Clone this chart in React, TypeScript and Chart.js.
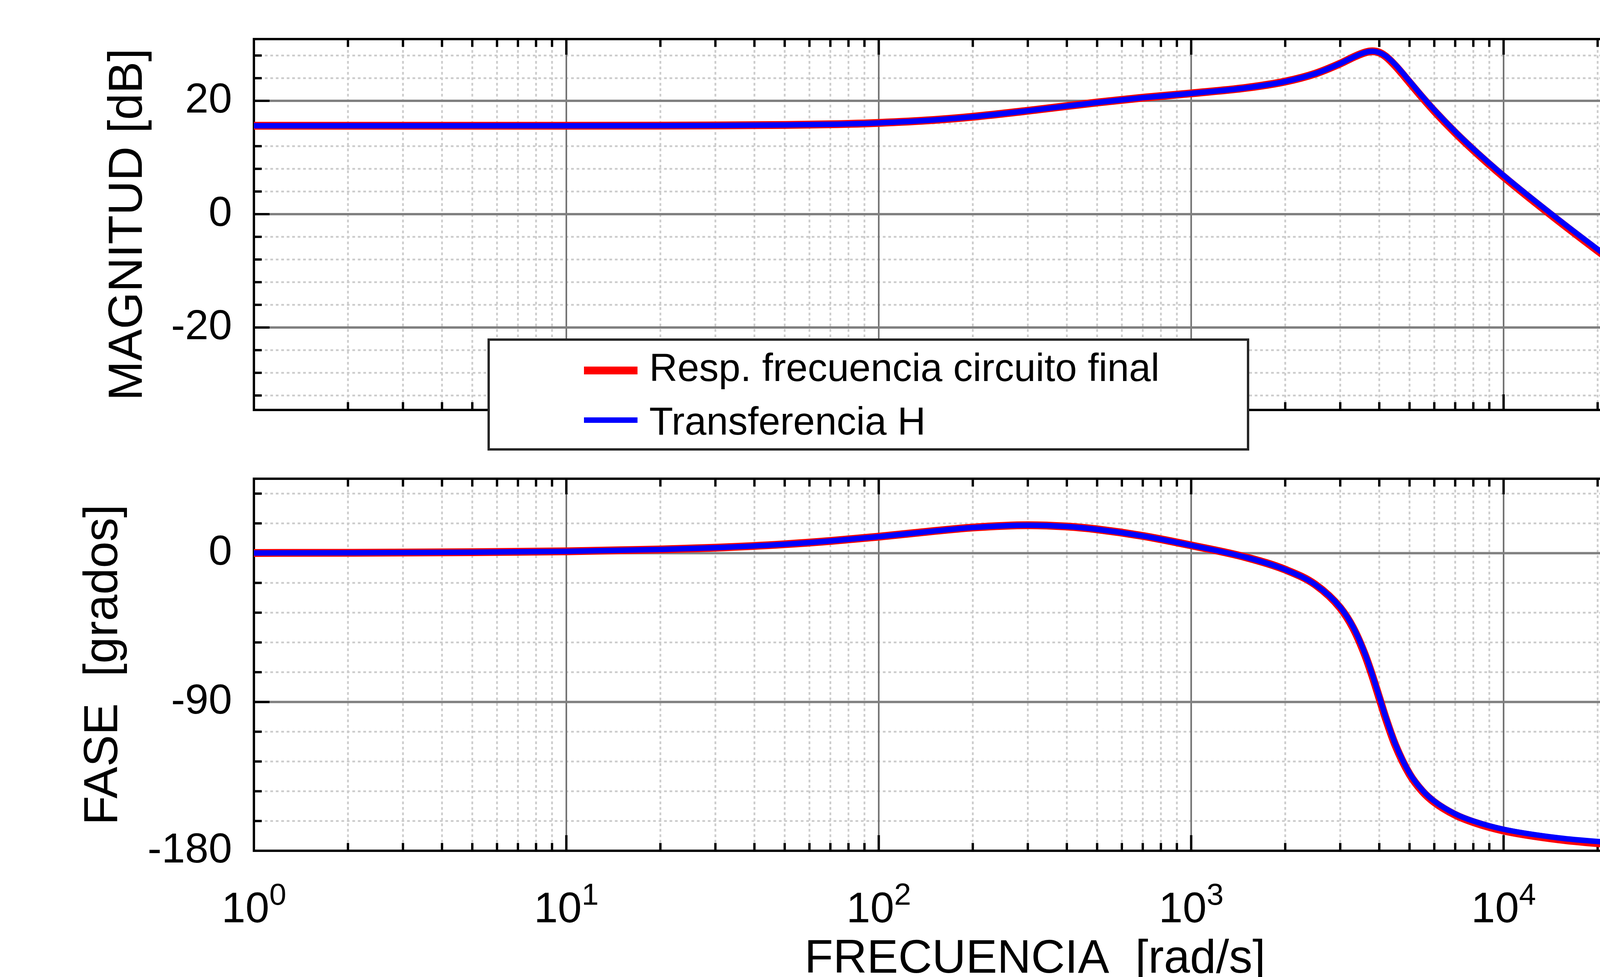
import { useEffect, useRef } from 'react';
import { Chart, registerables } from 'chart.js';

Chart.register(...registerables);

const FONT = '"Liberation Sans", Arial, Helvetica, sans-serif';

// frecuencias [rad/s]
const FREQ = [
  1, 2, 5, 10, 20, 30, 50, 70, 100, 150, 200, 300, 400, 500, 700, 1000, 1500, 2000, 2500, 3000,
  3300, 3600, 3800, 4000, 4200, 4500, 5000, 5500, 6000, 7000, 8000, 10000, 15000, 20000, 30000,
  50000, 70000, 100000,
];

// magnitud [dB]
const MAG_CIRCUITO = [
  15.6, 15.6, 15.6, 15.61, 15.62, 15.65, 15.74, 15.86, 16.11, 16.62, 17.19, 18.25, 19.08, 19.71,
  20.55, 21.32, 22.3, 23.41, 24.82, 26.58, 27.69, 28.53, 28.74, 28.52, 27.8, 26.2, 23.25, 20.55,
  18.2, 14.37, 11.33, 6.62, -1.18, -6.45, -13.68, -22.65, -28.52, -34.72,
];
const MAG_H = [
  15.6, 15.6, 15.6, 15.61, 15.62, 15.65, 15.74, 15.86, 16.11, 16.62, 17.19, 18.25, 19.08, 19.71,
  20.55, 21.32, 22.3, 23.41, 24.82, 26.58, 27.69, 28.53, 28.74, 28.52, 27.9, 26.41, 23.49, 20.77,
  18.41, 14.57, 11.53, 6.84, -0.95, -6.2, -13.43, -22.39, -28.26, -34.47,
];

// fase [grados]
const FASE_CIRCUITO = [
  0.11, 0.22, 0.55, 1.1, 2.2, 3.28, 5.38, 7.35, 9.98, 13.36, 15.49, 16.89, 16.09, 14.39, 10.41,
  4.7, -2.56, -9.97, -19.13, -33.1, -45.3, -61.5, -74.2, -87.5, -100.2, -116.0, -133.7, -144.1,
  -150.6, -158.3, -162.7, -167.8, -173.1, -175.4, -177.6, -179.3, -179.9, -180.5,
];
const FASE_H = [
  0.11, 0.22, 0.55, 1.1, 2.2, 3.28, 5.38, 7.35, 9.98, 13.36, 15.49, 16.89, 16.09, 14.39, 10.41,
  4.7, -2.56, -9.97, -19.13, -32.7, -44.71, -60.75, -73.43, -86.73, -99.4, -115.31, -133.02,
  -143.43, -149.98, -157.65, -162.01, -167.0, -172.2, -174.4, -176.4, -177.9, -178.5, -179.0,
];

const DECADES = [1, 10, 100, 1000, 10000, 100000];
const MAG_TICKS = [-20, 0, 20];
const FASE_TICKS = [-180, -90, 0];
const SERIES_LABELS = ['Resp. frecuencia circuito final', 'Transferencia H'];
const SERIES_COLORS = ['#ff0000', '#0000ff'];
const SERIES_WIDTHS = [20, 14];

interface PanelProps {
  top: number;
  height: number;
  padTop: number;
  padBottom: number;
  yMin: number;
  yMax: number;
  yTicks: number[];
  minorStep: number;
  yTitle: string;
  titleOffset: number;
  circuito: number[];
  transferencia: number[];
  legend?: boolean;
  xAxis?: boolean;
}

function BodePanel(p: PanelProps) {
  const canvasRef = useRef<HTMLCanvasElement>(null);

  useEffect(() => {
    if (!canvasRef.current) return;

    const line = (ctx: CanvasRenderingContext2D, x1: number, y1: number, x2: number, y2: number) => {
      ctx.beginPath();
      ctx.moveTo(x1, y1);
      ctx.lineTo(x2, y2);
      ctx.stroke();
    };

    // matlab style grid, box and inward ticks
    const boxGrid = {
      id: 'boxGrid',
      beforeDatasetsDraw(chart: any) {
        const { ctx, chartArea: a } = chart;
        const xs = chart.scales.x;
        const ys = chart.scales.y;
        const xMinor: number[] = [];
        DECADES.slice(0, -1).forEach((d) => {
          for (let k = 2; k <= 9; k++) xMinor.push(d * k);
        });
        const yMinor: number[] = [];
        for (let v = Math.ceil(ys.min / p.minorStep) * p.minorStep; v <= ys.max; v += p.minorStep) {
          if (!p.yTicks.includes(v)) yMinor.push(v);
        }

        ctx.save();
        ctx.beginPath();
        ctx.rect(a.left, a.top, a.right - a.left, a.bottom - a.top);
        ctx.clip();
        ctx.strokeStyle = '#cccccc';
        ctx.lineWidth = 4.5;
        ctx.setLineDash([7, 7]);
        xMinor.forEach((v) => {
          const px = xs.getPixelForValue(v);
          line(ctx, px, a.top, px, a.bottom);
        });
        yMinor.forEach((v) => {
          const py = ys.getPixelForValue(v);
          line(ctx, a.left, py, a.right, py);
        });
        ctx.setLineDash([]);
        ctx.strokeStyle = '#6e6e6e';
        ctx.lineWidth = 4;
        DECADES.forEach((v) => {
          const px = xs.getPixelForValue(v);
          line(ctx, px, a.top, px, a.bottom);
        });
        ctx.strokeStyle = '#808080';
        ctx.lineWidth = 6;
        p.yTicks.forEach((v) => {
          const py = ys.getPixelForValue(v);
          line(ctx, a.left, py, a.right, py);
        });
        ctx.restore();

        ctx.save();
        ctx.strokeStyle = '#000000';
        ctx.lineWidth = 6;
        ctx.strokeRect(a.left, a.top, a.right - a.left, a.bottom - a.top);
        const tick = (v: number, len: number) => {
          const px = xs.getPixelForValue(v);
          line(ctx, px, a.top, px, a.top + len);
          line(ctx, px, a.bottom, px, a.bottom - len);
        };
        xMinor.forEach((v) => tick(v, 20));
        DECADES.forEach((v) => tick(v, 40));
        const ytick = (v: number, len: number) => {
          const py = ys.getPixelForValue(v);
          line(ctx, a.left, py, a.left + len, py);
          line(ctx, a.right, py, a.right - len, py);
        };
        yMinor.forEach((v) => ytick(v, 20));
        p.yTicks.forEach((v) => ytick(v, 40));
        ctx.restore();
      },
    };

    const legendBox = {
      id: 'legendBox',
      afterDraw(chart: any) {
        if (!p.legend) return;
        const { ctx, chartArea: a } = chart;
        const left = a.left + 601;
        const top = a.bottom - 180;
        ctx.save();
        ctx.fillStyle = '#ffffff';
        ctx.fillRect(left, top, 1944, 281);
        ctx.strokeStyle = '#262626';
        ctx.lineWidth = 6;
        ctx.strokeRect(left, top, 1944, 281);
        ctx.font = `100px ${FONT}`;
        ctx.textAlign = 'left';
        ctx.textBaseline = 'alphabetic';
        chart.data.datasets.forEach((ds: any, i: number) => {
          const cy = top + 79 + i * 127;
          ctx.strokeStyle = ds.borderColor;
          ctx.lineWidth = ds.borderWidth;
          line(ctx, left + 244, cy, left + 381, cy);
          ctx.fillStyle = '#000000';
          ctx.fillText(ds.label, left + 411, top + 106 + i * 137);
        });
        ctx.restore();
      },
    };

    const xLabels = {
      id: 'xLabels',
      afterDraw(chart: any) {
        if (!p.xAxis) return;
        const { ctx, chartArea: a } = chart;
        const xs = chart.scales.x;
        ctx.save();
        ctx.fillStyle = '#000000';
        ctx.textAlign = 'left';
        ctx.textBaseline = 'alphabetic';
        DECADES.forEach((d) => {
          const exp = String(Math.round(Math.log10(d)));
          ctx.font = `110px ${FONT}`;
          const wb = ctx.measureText('10').width;
          ctx.font = `78px ${FONT}`;
          const we = ctx.measureText(exp).width;
          const x0 = xs.getPixelForValue(d) - (wb + we) / 2;
          ctx.font = `110px ${FONT}`;
          ctx.fillText('10', x0, a.bottom + 183);
          ctx.font = `78px ${FONT}`;
          ctx.fillText(exp, x0 + wb, a.bottom + 138);
        });
        ctx.font = `120px ${FONT}`;
        ctx.textAlign = 'center';
        ctx.fillText('FRECUENCIA  [rad/s]', (a.left + a.right) / 2, a.bottom + 312);
        ctx.restore();
      },
    };

    const series = [p.circuito, p.transferencia];

    const chart = new Chart(canvasRef.current, {
      type: 'line',
      data: {
        datasets: series.map((vals, i) => ({
          label: SERIES_LABELS[i],
          data: FREQ.map((f, j) => ({ x: f, y: vals[j] })),
          borderColor: SERIES_COLORS[i],
          borderWidth: SERIES_WIDTHS[i],
          pointRadius: 0,
          cubicInterpolationMode: 'monotone' as const,
          order: i === 0 ? 2 : 1,
          clip: false as any,
        })),
      },
      options: {
        responsive: false,
        animation: false,
        devicePixelRatio: 1,
        events: [],
        layout: {
          padding: { left: 0, right: 351, top: p.padTop, bottom: p.padBottom },
          autoPadding: false,
        },
        scales: {
          x: { type: 'logarithmic', min: 1, max: 100000, display: false },
          y: {
            type: 'linear',
            min: p.yMin,
            max: p.yMax,
            afterBuildTicks: (axis: any) => {
              axis.ticks = p.yTicks.map((v) => ({ value: v }));
            },
            afterFit: (axis: any) => {
              axis.width = 650;
              axis.paddingTop = 0;
              axis.paddingBottom = 0;
            },
            grid: { display: false, drawTicks: false },
            border: { display: false },
            ticks: {
              color: '#000000',
              padding: 56,
              font: { family: FONT, size: 108 },
              callback: (v: any) => String(v),
            },
            title: {
              display: true,
              text: p.yTitle,
              color: '#000000',
              font: { family: FONT, size: 122, lineHeight: 1.2 },
              padding: { top: p.titleOffset, bottom: 0 },
            },
          },
        },
        plugins: {
          legend: { display: false },
          tooltip: { enabled: false },
        },
      },
      plugins: [boxGrid, legendBox, xLabels],
    } as any);

    return () => chart.destroy();
  }, [p]);

  return (
    <canvas
      ref={canvasRef}
      width={5000}
      height={p.height}
      style={{ position: 'absolute', left: 0, top: p.top, width: 5000, height: p.height }}
    />
  );
}

export default function App() {
  return (
    <div
      style={{
        position: 'absolute',
        left: 0,
        top: 0,
        width: 5000,
        height: 2500,
        background: '#ffffff',
        overflow: 'hidden',
      }}
    >
      <BodePanel
        top={1200}
        height={1300}
        padTop={25}
        padBottom={323}
        yMin={-180}
        yMax={45}
        yTicks={FASE_TICKS}
        minorStep={18}
        yTitle="FASE  [grados]"
        titleOffset={193}
        circuito={FASE_CIRCUITO}
        transferencia={FASE_H}
        xAxis
      />
      <BodePanel
        top={0}
        height={1200}
        padTop={100}
        padBottom={151}
        yMin={-34.55}
        yMax={30.9}
        yTicks={MAG_TICKS}
        minorStep={4}
        yTitle="MAGNITUD [dB]"
        titleOffset={256}
        circuito={MAG_CIRCUITO}
        transferencia={MAG_H}
        legend
      />
    </div>
  );
}
